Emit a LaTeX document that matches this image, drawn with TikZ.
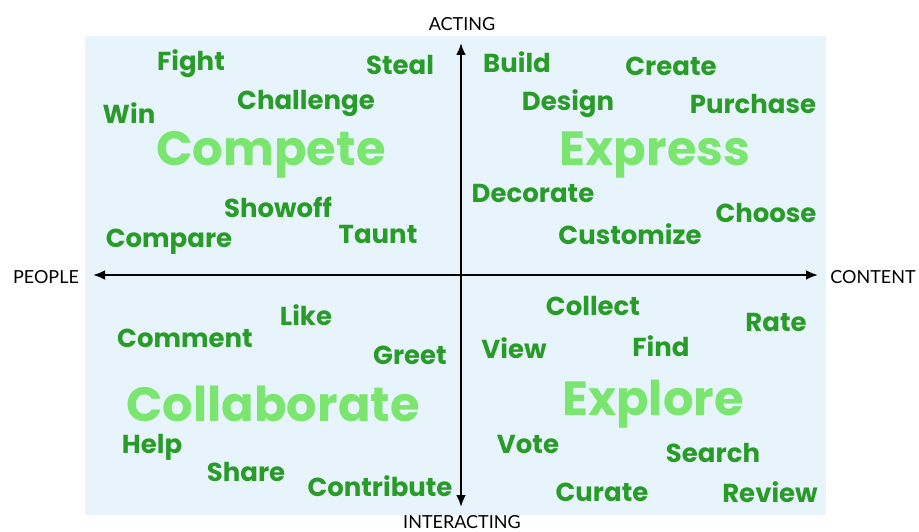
\documentclass[tikz,border=0pt]{standalone}
\usepackage{fontspec}
\setmainfont{Lato}
\newfontfamily\wordfont{Poppins}
\usetikzlibrary{arrows.meta}
\definecolor{bgblue}{RGB}{232,244,252}
\definecolor{dgreen}{RGB}{40,155,40}
\definecolor{lgreen}{RGB}{122,230,112}
\tikzset{
  word/.style={inner sep=0pt, yshift=-2pt, text=dgreen, font=\wordfont\bfseries\fontsize{26}{28}\selectfont},
  bigword/.style={inner sep=0pt, yshift=-5pt, text=lgreen, font=\wordfont\bfseries\fontsize{48}{52}\selectfont},
  axislabel/.style={inner sep=0pt, text=black, font=\fontsize{18}{20}\selectfont},
  axis/.style={line width=2.6pt, -{Latex[length=12pt,width=10pt]}}
}
\begin{document}
\begin{tikzpicture}[x=1pt,y=-1pt]
\useasboundingbox (0,0) rectangle (919,532);
\fill[bgblue] (85,36) rectangle (826,515);
\coordinate (c) at (461,275);
\coordinate (top) at (461,43);
\coordinate (bot) at (461,507);
\coordinate (lft) at (93,275);
\coordinate (rgt) at (818,275);
\draw[axis] (c) -- (top);
\draw[axis] (c) -- (bot);
\draw[axis] (c) -- (lft);
\draw[axis] (c) -- (rgt);
\node[axislabel] (acting) at (462,24) {ACTING};
\node[axislabel] (people) at (46,277) {PEOPLE};
\node[axislabel] (content) at (873,277) {CONTENT};
\node[axislabel] (interacting) at (462,522) {INTERACTING};
% top left
\node[word] (fight) at (191,62) {Fight};
\node[word] (steal) at (400,63) {Steal};
\node[word] (win) at (129,111) {Win};
\node[word] (challenge) at (306,101) {Challenge};
\node[bigword] (compete) at (271,150) {Compete};
\node[word] (showoff) at (278,205) {Showoff};
\node[word] (taunt) at (378,232) {Taunt};
\node[word] (compare) at (169,240) {Compare};
% top right
\node[word] (build) at (517,60) {Build};
\node[word] (create) at (671,64) {Create};
\node[word] (design) at (568,102) {Design};
\node[word] (purchase) at (753,102) {Purchase};
\node[bigword] (express) at (655,150) {Express};
\node[word] (decorate) at (533,191) {Decorate};
\node[word] (choose) at (766,211) {Choose};
\node[word] (customize) at (630,232) {Customize};
% bottom left
\node[word] (like) at (306,313) {Like};
\node[word] (comment) at (185,336) {Comment};
\node[word] (greet) at (410,353) {Greet};
\node[bigword] (collaborate) at (273,399) {Collaborate};
\node[word] (help) at (152,445) {Help};
\node[word] (share) at (246,470) {Share};
\node[word] (contribute) at (380,484) {Contribute};
% bottom right
\node[word] (collect) at (593,304) {Collect};
\node[word] (rate) at (776,320) {Rate};
\node[word] (view) at (514,346) {View};
\node[word] (find) at (661,344) {Find};
\node[bigword] (explore) at (653,399) {Explore};
\node[word] (vote) at (528,442) {Vote};
\node[word] (search) at (713,451) {Search};
\node[word] (curate) at (602,490) {Curate};
\node[word] (review) at (770,490) {Review};
\end{tikzpicture}
\end{document}
